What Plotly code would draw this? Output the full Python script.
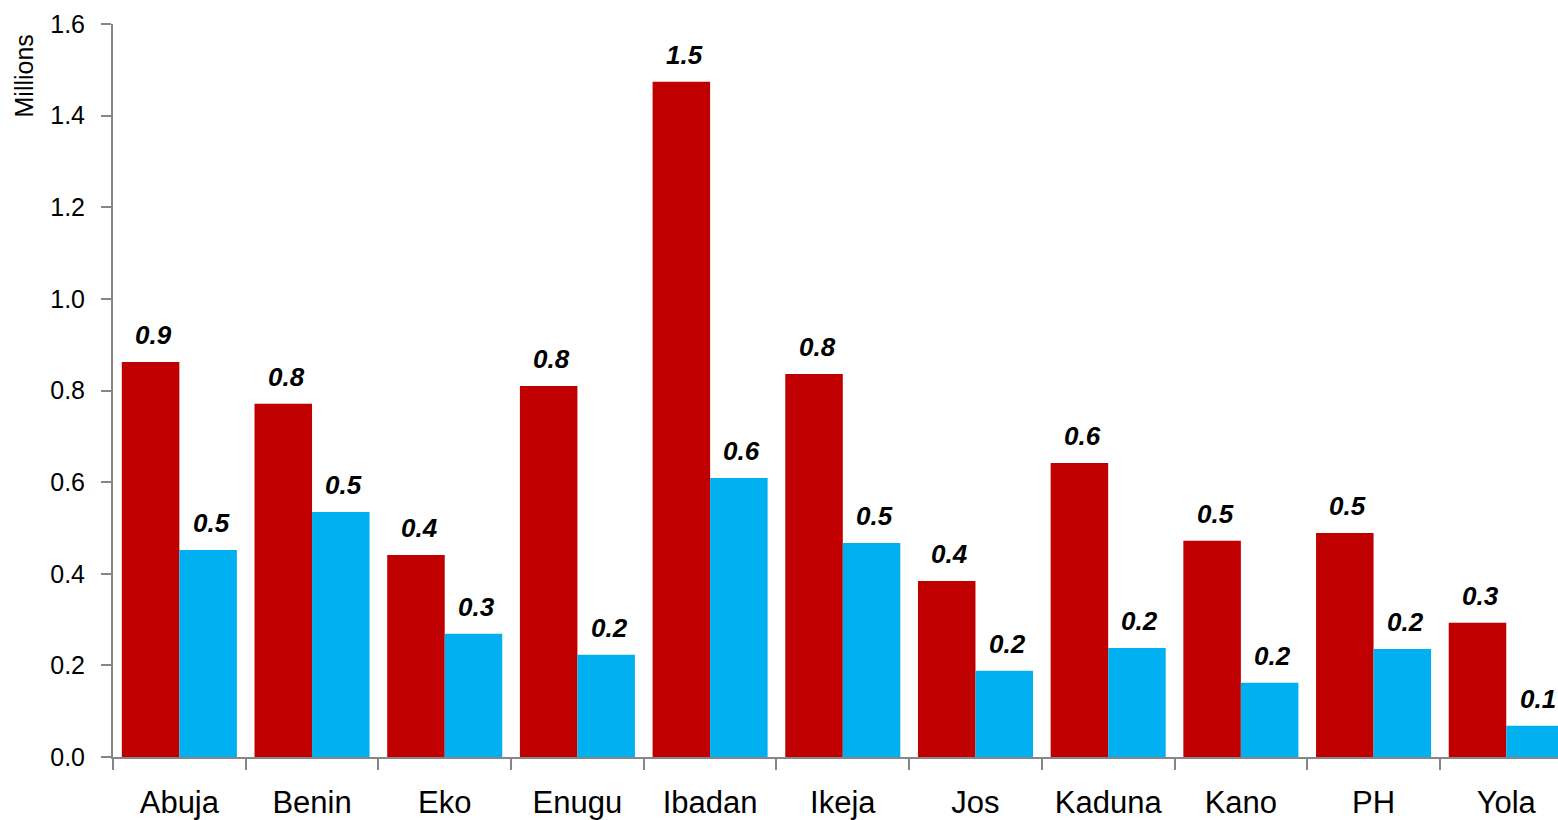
import plotly.graph_objects as go

cities = ["Abuja", "Benin", "Eko", "Enugu", "Ibadan", "Ikeja", "Jos", "Kaduna", "Kano", "PH", "Yola"]
red_vals = [0.862, 0.771, 0.441, 0.810, 1.474, 0.836, 0.384, 0.642, 0.472, 0.489, 0.293]
blue_vals = [0.452, 0.535, 0.269, 0.223, 0.609, 0.467, 0.188, 0.238, 0.162, 0.236, 0.068]
y_ticks = [0, 0.2, 0.4, 0.6, 0.8, 1.0, 1.2, 1.4, 1.6]

RED = "#C00000"
BLUE = "#00B0F0"
AXIS = "#868686"
FONT = "Liberation Sans, Arial, sans-serif"

fig = go.Figure()
fig.add_trace(go.Bar(x=cities, y=red_vals, marker=dict(color=RED, line=dict(width=0)), name="red"))
fig.add_trace(go.Bar(x=cities, y=blue_vals, marker=dict(color=BLUE, line=dict(width=0)), name="blue"))

annotations = []
for series, shift in ((red_vals, -28.7), (blue_vals, 28.7)):
    for c, v in zip(cities, series):
        annotations.append(dict(
            x=c, y=v, xref="x", yref="y", text=f"<b><i>{v:.1f}</i></b>",
            showarrow=False, xanchor="center", yanchor="bottom",
            xshift=shift + 3, yshift=10,
            font=dict(family=FONT, size=26, color="black"),
        ))

annotations.append(dict(
    x=0, y=1, xref="paper", yref="paper", text="Millions", textangle=-90,
    showarrow=False, xanchor="center", yanchor="top", xshift=-90, yshift=-9,
    font=dict(family=FONT, size=25, color="black"),
))

fig.update_layout(
    width=1558, height=820,
    margin=dict(l=113, r=0, t=24, b=63),
    paper_bgcolor="white", plot_bgcolor="white",
    barmode="group", bargap=0.133, bargroupgap=0,
    showlegend=False,
    annotations=annotations,
    font=dict(family=FONT, color="black"),
)
fig.update_xaxes(
    range=[-0.5, 10.39], showline=True, linecolor=AXIS, linewidth=2,
    ticks="outside", tickson="boundaries", ticklen=11, tickcolor=AXIS, tickwidth=2,
    tickfont=dict(family=FONT, size=31, color="black"), showgrid=False,
    ticklabelstandoff=17,
)
fig.update_yaxes(
    range=[0, 1.6], tickvals=y_ticks, tickformat=".1f", showline=True, linecolor=AXIS, linewidth=2,
    ticks="outside", ticklen=10, tickcolor=AXIS, tickwidth=2,
    tickfont=dict(family=FONT, size=25, color="black"), showgrid=False, zeroline=False,
    ticklabelstandoff=11,
)

fig.write_html("out.html")
